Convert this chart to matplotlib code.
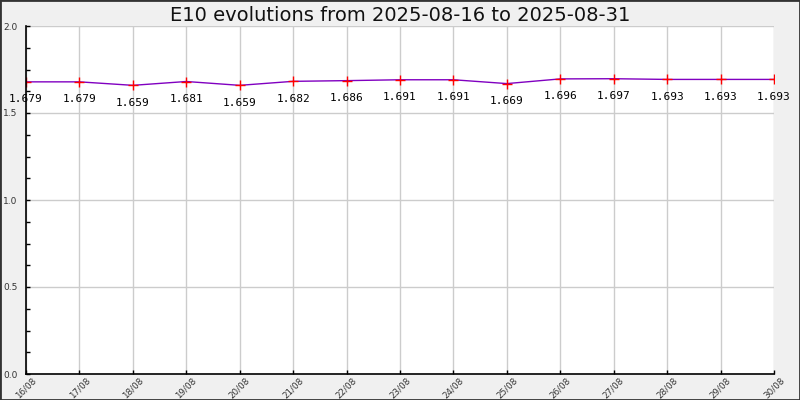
import matplotlib
matplotlib.use('Agg')
import matplotlib.pyplot as plt
from matplotlib.patches import Rectangle
from matplotlib.ticker import MultipleLocator

DATES = ['16/08', '17/08', '18/08', '19/08', '20/08', '21/08', '22/08', '23/08',
         '24/08', '25/08', '26/08', '27/08', '28/08', '29/08', '30/08']
PRICES = [1.679, 1.679, 1.659, 1.681, 1.659, 1.682, 1.686, 1.691,
          1.691, 1.669, 1.696, 1.697, 1.693, 1.693, 1.693]
TITLE = 'E10 evolutions from 2025-08-16 to 2025-08-31'

BG = '#f0f0f0'
fig = plt.figure(figsize=(8, 4), dpi=100, facecolor=BG)
ax = fig.add_axes([0.0325, 0.065, 0.935, 0.87])
ax.set_facecolor('white')

x = list(range(len(DATES)))
ax.plot(x, PRICES, color='#8000c0', lw=1.0, zorder=3)
ax.plot(x, PRICES, '+', color='red', ms=7, mew=1.0, zorder=4)
for xi, v in zip(x, PRICES):
    ax.annotate(f'{v:.3f}', (xi, v), xytext=(0, -9), textcoords='offset points',
                ha='center', va='top', fontsize=8, family='DejaVu Sans Mono', color='black')

ax.set_xlim(0, len(DATES) - 1)
ax.set_ylim(0, 2.0)
ax.set_xticks(x)
ax.set_xticklabels(DATES, rotation=45, ha='center', fontsize=6.3, color='#333333')
ax.yaxis.set_major_locator(MultipleLocator(0.5))
ax.yaxis.set_minor_locator(MultipleLocator(0.125))
ax.set_yticklabels([f'{t:.1f}' for t in ax.get_yticks()], fontsize=6.5, color='#333333')
ax.tick_params(axis='y', which='both', direction='in', length=3, width=1, pad=6)
ax.tick_params(axis='x', direction='in', length=3, width=1, pad=1)
ax.grid(True, which='major', color='#cccccc', lw=1)
ax.set_axisbelow(True)
for sp in ['top', 'right']:
    ax.spines[sp].set_visible(False)
for sp in ['left', 'bottom']:
    ax.spines[sp].set_color('black')
    ax.spines[sp].set_linewidth(1.2)
    ax.spines[sp].set_zorder(5)

fig.text(0.5, 0.985, TITLE, ha='center', va='top', fontsize=14, color='#111111')
fig.patches.append(Rectangle((0, 0), 1, 1, transform=fig.transFigure,
                             fill=False, edgecolor='#333333', lw=2))

fig.savefig('out.png', dpi=100, facecolor=BG)
